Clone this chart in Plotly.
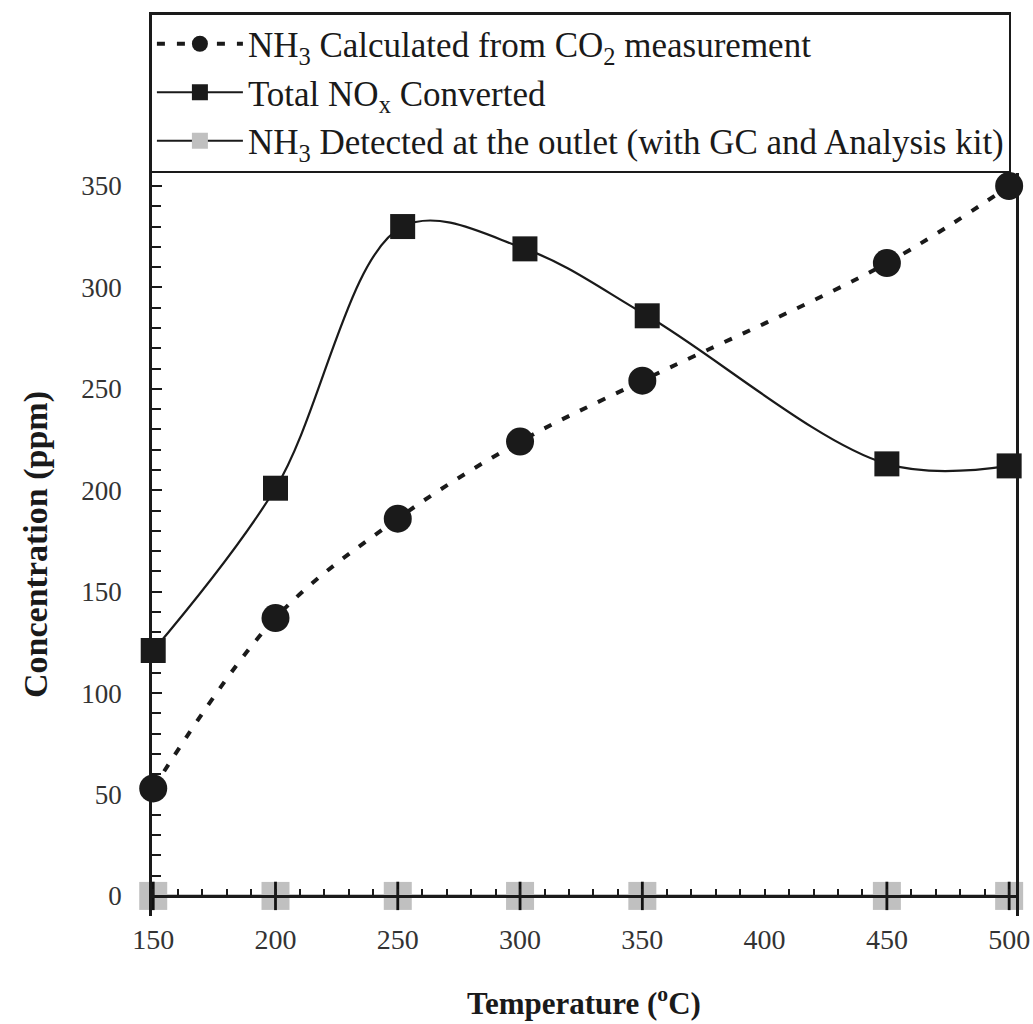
import plotly.graph_objects as go

temp_calc = [150, 200, 250, 300, 350, 450, 500]
nh3_calc = [53, 137, 186, 224, 254, 312, 350]

temp_nox = [150, 200, 252, 302, 352, 450, 500]
nox_conv = [121, 201, 330, 319, 286, 213, 212]

temp_det = [150, 200, 250, 300, 350, 450, 500]
nh3_det = [0, 0, 0, 0, 0, 0, 0]

x_ticks = [150, 200, 250, 300, 350, 400, 450, 500]
y_ticks = [0, 50, 100, 150, 200, 250, 300, 350]

SERIF = "Liberation Serif, Times New Roman, serif"
Y_LOW, Y_HIGH = -9.9, 356.4

fig = go.Figure()

fig.add_trace(go.Scatter(
    x=temp_calc, y=nh3_calc, mode="lines+markers",
    name="NH<sub>3</sub> Calculated from CO<sub>2</sub> measurement",
    line=dict(color="#1a1a1a", width=4, dash="8px,12px", shape="spline", smoothing=1),
    marker=dict(symbol="circle", size=28, color="#1a1a1a"),
    cliponaxis=False,
))
fig.add_trace(go.Scatter(
    x=temp_nox, y=nox_conv, mode="lines+markers",
    name="Total NO<sub>x</sub> Converted",
    line=dict(color="#1a1a1a", width=2.2, shape="spline", smoothing=1),
    marker=dict(symbol="square", size=25, color="#1a1a1a"),
    cliponaxis=False,
))
fig.add_trace(go.Scatter(
    x=temp_det, y=nh3_det, mode="lines+markers",
    name="NH<sub>3</sub> Detected at the outlet (with GC and Analysis kit)",
    line=dict(color="#1a1a1a", width=2.2),
    marker=dict(symbol="square", size=28, color="#c0c0c0", line=dict(width=0)),
    cliponaxis=False,
))
# vertical cross stroke drawn through each grey square
fig.add_trace(go.Scatter(
    x=temp_det, y=nh3_det, mode="markers", showlegend=False,
    marker=dict(symbol="square", size=1, opacity=0),
    error_y=dict(type="constant", value=7, thickness=2.8, width=0, color="#111111"),
    cliponaxis=False, hoverinfo="skip",
))

fig.update_layout(
    width=1033, height=1024,
    margin=dict(l=152, r=17, t=170, b=108),
    paper_bgcolor="white", plot_bgcolor="white",
    font=dict(family=SERIF, color="#2a2a2a"),
    showlegend=True,
    legend=dict(
        x=-0.003, y=1.0, xanchor="left", yanchor="bottom",
        bgcolor="white", bordercolor="#1a1a1a", borderwidth=2.5,
        font=dict(family=SERIF, size=35, color="#1a1a1a"),
        itemwidth=86, tracegroupgap=0,
    ),
    xaxis=dict(
        range=[149.5, 502.8], tickvals=x_ticks, ticktext=[str(v) for v in x_ticks],
        anchor="free", position=(0 - Y_LOW) / (Y_HIGH - Y_LOW),
        showgrid=False, zeroline=False, automargin=False,
        showline=True, linecolor="#1a1a1a", linewidth=2.5,
        ticks="inside", ticklen=6, tickwidth=1.5, tickcolor="#1a1a1a",
        minor=dict(dtick=10, ticks="inside", ticklen=6, tickwidth=1.5, tickcolor="#1a1a1a"),
        tickfont=dict(family=SERIF, size=28, color="#333333"),
        ticklabelstandoff=18, ticklabeloverflow="allow",
        title=dict(text="<b>Temperature (<sup>o</sup>C)</b>", font=dict(family=SERIF, size=31, color="#1a1a1a"), standoff=38),
    ),
    yaxis=dict(
        range=[Y_LOW, Y_HIGH], tickvals=y_ticks, ticktext=[str(v) for v in y_ticks],
        showgrid=False, zeroline=False, automargin=False,
        showline=True, linecolor="#1a1a1a", linewidth=2.5, mirror=True,
        ticks="inside", ticklen=10, tickwidth=2, tickcolor="#1a1a1a",
        minor=dict(dtick=10, ticks="inside", ticklen=9, tickwidth=1.5, tickcolor="#1a1a1a"),
        tickfont=dict(family=SERIF, size=27, color="#333333"),
        ticklabelstandoff=22,
        title=dict(text="<b>Concentration (ppm)</b>", font=dict(family=SERIF, size=34, color="#1a1a1a"), standoff=24),
    ),
)

fig.write_html("out.html")
